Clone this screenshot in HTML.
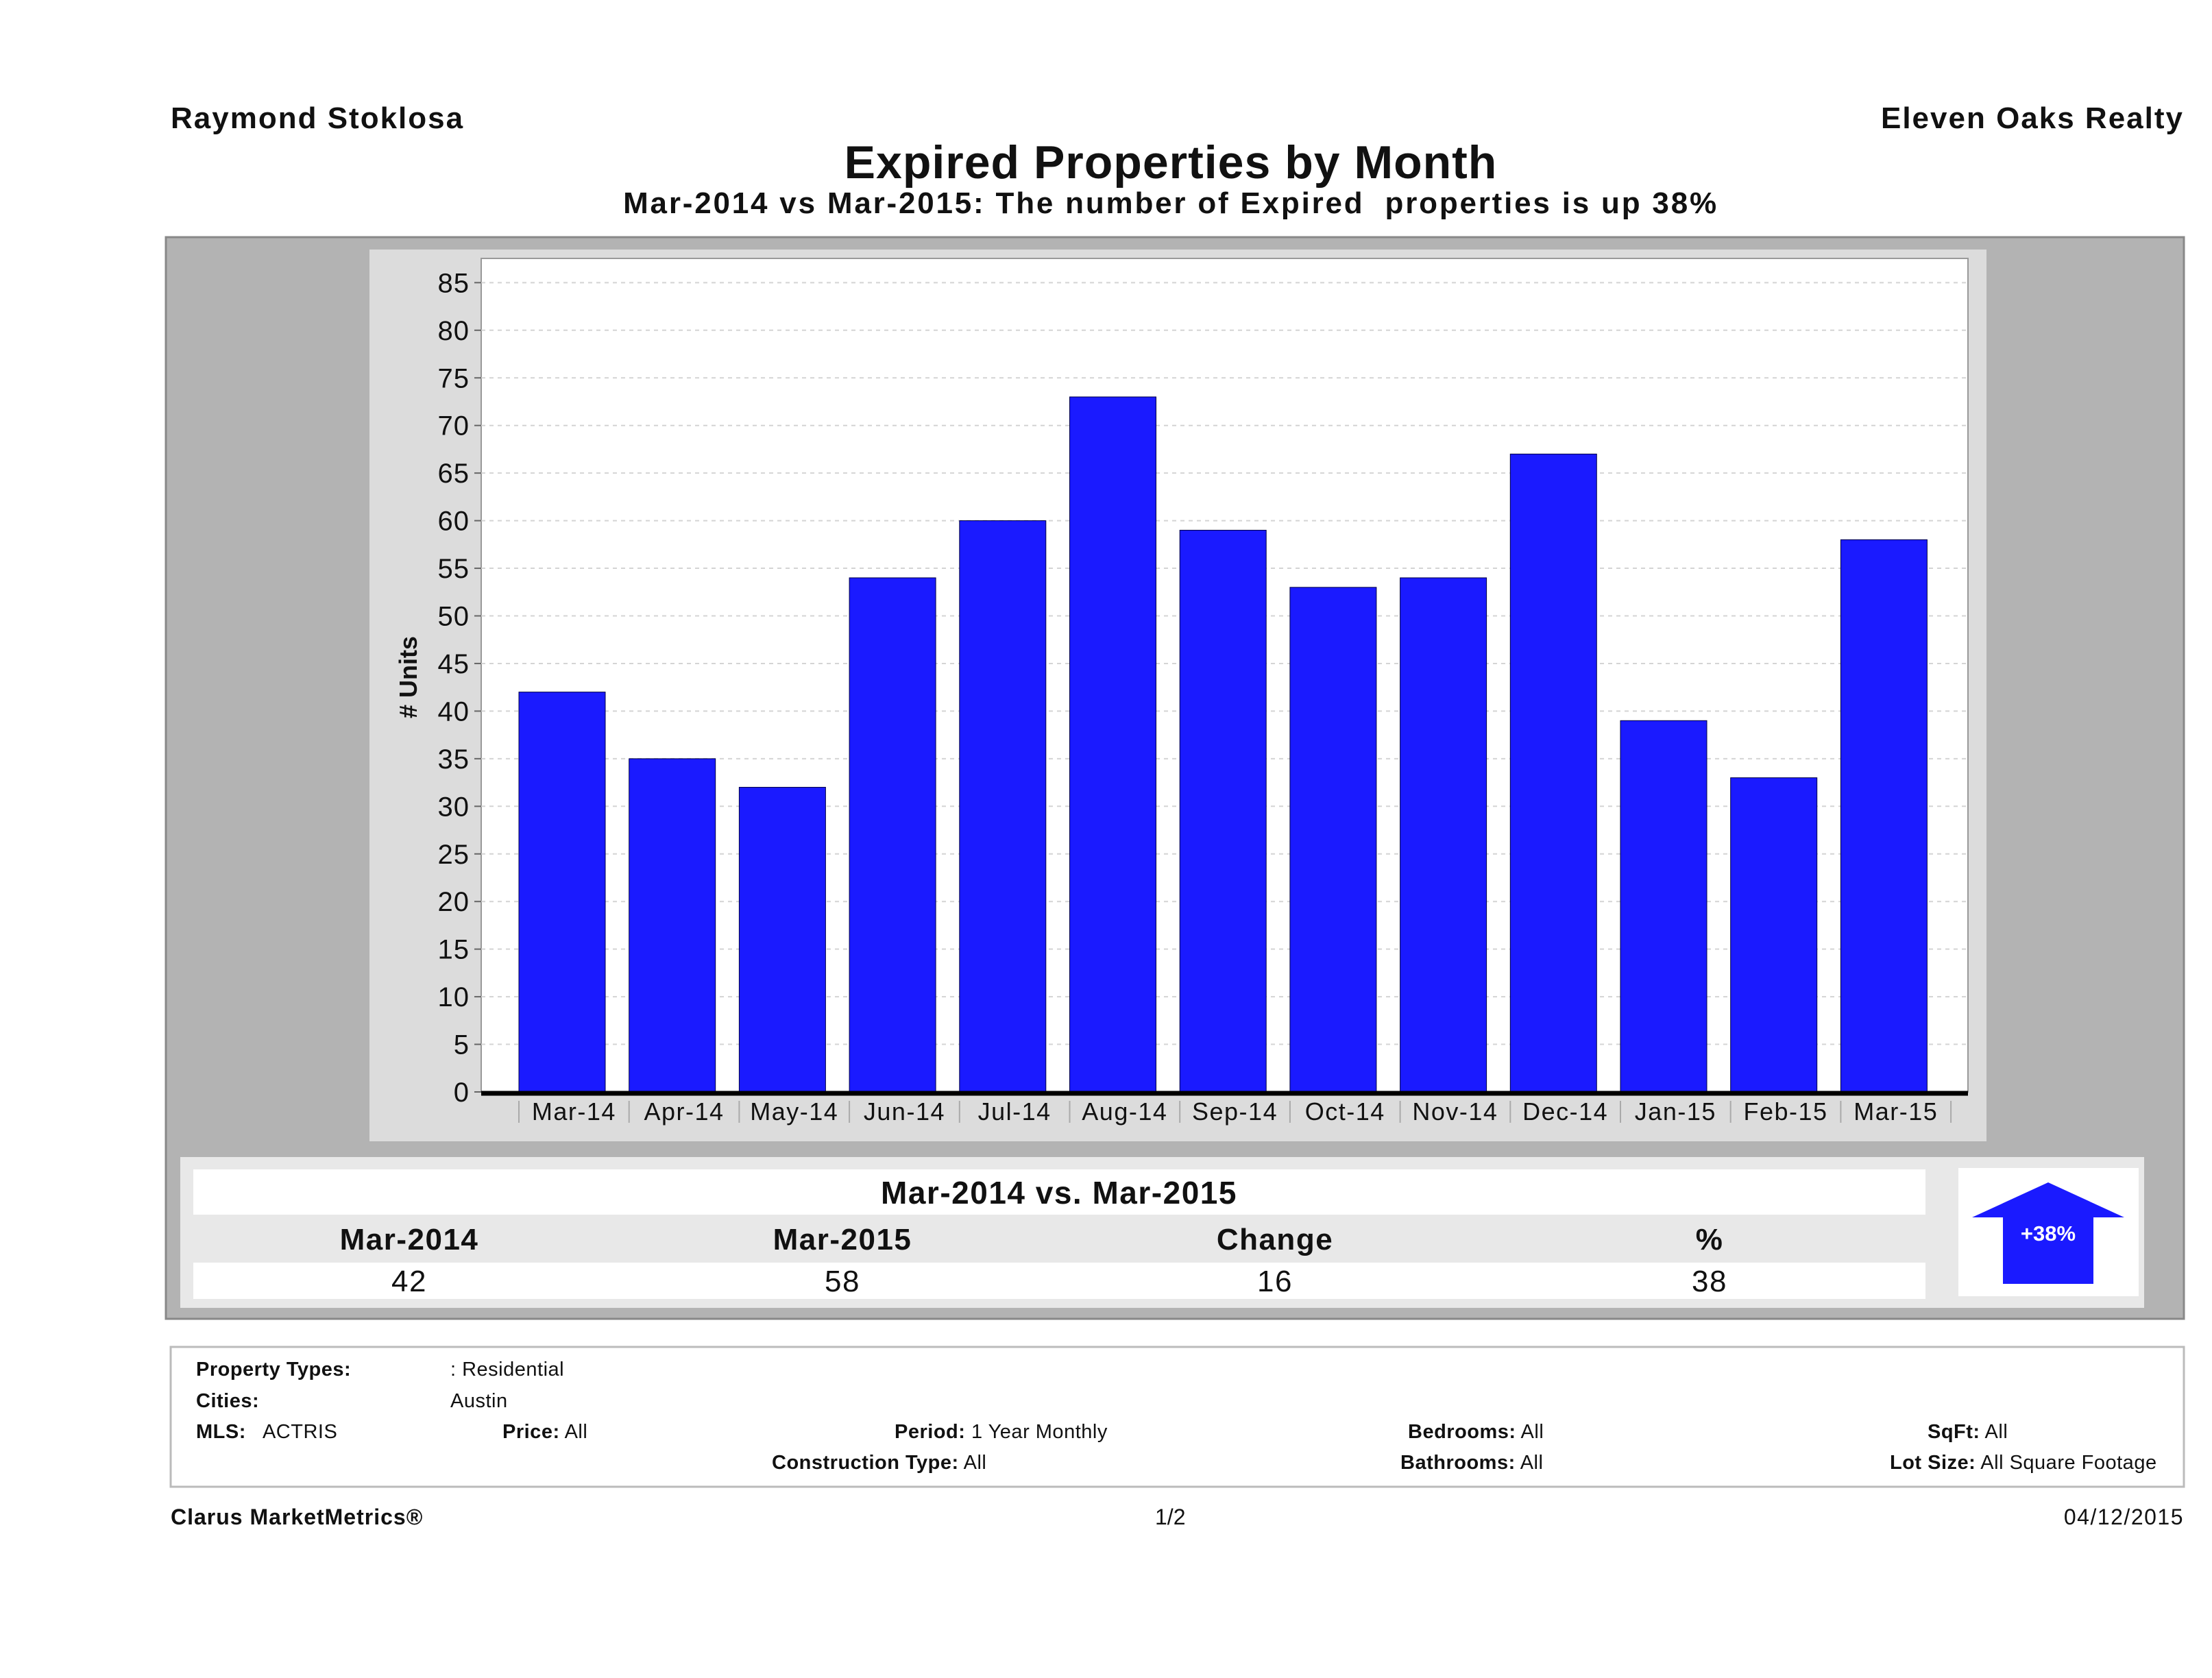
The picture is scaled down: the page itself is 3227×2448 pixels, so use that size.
<!DOCTYPE html>
<html><head><meta charset="utf-8"><style>
html,body{margin:0;padding:0;background:#fff;}
body{width:3227px;height:2448px;position:relative;overflow:hidden;font-family:"Liberation Sans",sans-serif;}
.t{position:absolute;white-space:nowrap;color:#111;}
.b{font-weight:bold;}
</style></head><body>
<div class="t b" style="left:249px;top:148px;font-size:44px;letter-spacing:2px;">Raymond Stoklosa</div>
<div class="t b" style="right:41px;top:148px;font-size:44px;letter-spacing:2px;">Eleven Oaks Realty</div>
<div class="t b" style="left:0;width:3416px;text-align:center;top:198px;font-size:68px;letter-spacing:1px;">Expired Properties by Month</div>
<div class="t b" style="left:0;width:3416px;text-align:center;top:272px;font-size:44px;letter-spacing:2.8px;">Mar-2014 vs Mar-2015: The number of Expired&nbsp; properties is up 38%</div>

<svg width="3227" height="2448" style="position:absolute;left:0;top:0;">
<rect x="242" y="346" width="2944" height="1578" fill="#b3b3b3" stroke="#888" stroke-width="3"/>
<rect x="539" y="364" width="2359" height="1301" fill="#dcdcdc"/>
<rect x="702" y="377" width="2169" height="1216" fill="#fff" stroke="#999" stroke-width="2"/>
<g id="grid"></g><g id="bars"></g><g id="axes"></g>
<text x="608" y="988" transform="rotate(-90 608 988)" text-anchor="middle" font-size="36" font-weight="bold" font-family="Liberation Sans, sans-serif" fill="#111"># Units</text>

<rect x="263" y="1688" width="2865" height="220" fill="#e8e8e8"/>
<rect x="282" y="1706" width="2527" height="66" fill="#fff"/>
<rect x="282" y="1842" width="2527" height="53" fill="#fff"/>
<text x="1545" y="1756" text-anchor="middle" font-size="46" font-weight="bold" letter-spacing="1.5" font-family="Liberation Sans, sans-serif" fill="#111">Mar-2014 vs. Mar-2015</text>
<g font-family="Liberation Sans, sans-serif" font-size="44" fill="#111" text-anchor="middle" letter-spacing="1.5">
<text x="597" y="1823" font-weight="bold">Mar-2014</text>
<text x="1229" y="1823" font-weight="bold">Mar-2015</text>
<text x="1860" y="1823" font-weight="bold">Change</text>
<text x="2494" y="1823" font-weight="bold">%</text>
<text x="597" y="1884">42</text>
<text x="1229" y="1884">58</text>
<text x="1860" y="1884">16</text>
<text x="2494" y="1884">38</text>
</g>
<rect x="2857" y="1704" width="263" height="187" fill="#fff"/>
<polygon points="2988,1725 3099,1776 3054,1776 3054,1873 2922,1873 2922,1776 2877,1776" fill="#1a1aff"/>
<text x="2988" y="1810" text-anchor="middle" font-size="31" font-weight="bold" font-family="Liberation Sans, sans-serif" fill="#fff">+38%</text>

<rect x="249" y="1965" width="2937" height="204" fill="#fff" stroke="#bbb" stroke-width="3"/>
</svg>

<div style="font-size:29px;letter-spacing:0.5px;">
<div class="t b" style="left:286px;top:1982px;">Property Types:</div>
<div class="t" style="left:657px;top:1982px;">: Residential</div>
<div class="t b" style="left:286px;top:2028px;">Cities:</div>
<div class="t" style="left:657px;top:2028px;">Austin</div>
<div class="t" style="left:286px;top:2073px;"><b>MLS:</b>&nbsp;&nbsp; ACTRIS</div>
<div class="t" style="left:733px;top:2073px;"><b>Price:</b> All</div>
<div class="t" style="left:1305px;top:2073px;"><b>Period:</b> 1 Year Monthly</div>
<div class="t" style="left:1126px;top:2118px;"><b>Construction Type:</b> All</div>
<div class="t" style="left:2054px;top:2073px;"><b>Bedrooms:</b> All</div>
<div class="t" style="left:2043px;top:2118px;"><b>Bathrooms:</b> All</div>
<div class="t" style="left:2812px;top:2073px;"><b>SqFt:</b> All</div>
<div class="t" style="left:2757px;top:2118px;"><b>Lot Size:</b> All Square Footage</div>
</div>
<div class="t b" style="left:249px;top:2195px;font-size:32px;letter-spacing:1px;">Clarus MarketMetrics®</div>
<div class="t" style="left:1685px;top:2195px;font-size:32px;">1/2</div>
<div class="t" style="right:41px;top:2195px;font-size:32px;letter-spacing:1.5px;">04/12/2015</div>

<script>
const categories = ["Mar-14","Apr-14","May-14","Jun-14","Jul-14","Aug-14","Sep-14","Oct-14","Nov-14","Dec-14","Jan-15","Feb-15","Mar-15"];
const values = [42,35,32,54,60,73,59,53,54,67,39,33,58];
const yTicks = [0,5,10,15,20,25,30,35,40,45,50,55,60,65,70,75,80,85];

const NS = "http://www.w3.org/2000/svg";
const plotL = 702, plotR = 2871, zeroY = 1593, unit = 13.89;
const bandStart = 757, band = 160.7, barW = 126;
function y(v){ return zeroY - v*unit; }
function xBand(i){ return bandStart + i*band; }
function mk(tag, attrs, parent){ const e=document.createElementNS(NS,tag); for(const k in attrs) e.setAttribute(k,attrs[k]); parent.appendChild(e); return e; }

const grid=document.getElementById('grid'), bars=document.getElementById('bars'), axes=document.getElementById('axes');
yTicks.forEach(t=>{
  if(t>0){
    const g=mk('line',{x1:plotL,x2:plotR,y1:y(t),y2:y(t),stroke:'#d4d4d4','stroke-width':2,'stroke-dasharray':'6,6'},grid);
    
    
  }
  const tk=mk('line',{x1:plotL-10,x2:plotL,y1:y(t),y2:y(t),stroke:'#666','stroke-width':2},axes);
  
  
  const lb=mk('text',{x:685,y:y(t)+14,'text-anchor':'end','font-size':40,'letter-spacing':1,'font-family':'Liberation Sans, sans-serif',fill:'#111'},axes);
  lb.textContent=t;
  
  
});
values.forEach((v,i)=>{
  const r=mk('rect',{x:xBand(i),y:y(v),width:barW,height:zeroY-y(v),fill:'#1a1aff',stroke:'#000044','stroke-width':1},bars);
  
  
});
categories.forEach((c,i)=>{
  const tk=mk('line',{x1:xBand(i),x2:xBand(i),y1:1606,y2:1638,stroke:'#aaa','stroke-width':2},axes);
  
  
  const lb=mk('text',{x:xBand(i)+band/2,y:1634,'text-anchor':'middle','font-size':36,'letter-spacing':1.5,'font-family':'Liberation Sans, sans-serif',fill:'#111'},axes);
  lb.textContent=c;
  
  
});
const last=mk('line',{x1:xBand(categories.length),x2:xBand(categories.length),y1:1606,y2:1638,stroke:'#aaa','stroke-width':2},axes);


const ax=mk('line',{x1:plotL,x2:plotR,y1:zeroY+2,y2:zeroY+2,stroke:'#000','stroke-width':7},axes);


</script>
</body></html>
